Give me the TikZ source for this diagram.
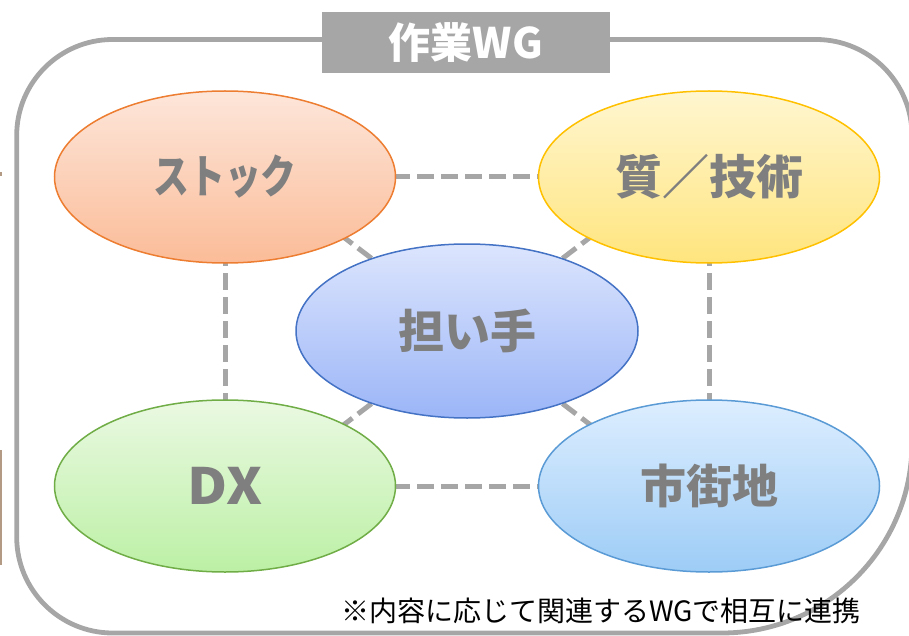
\documentclass[tikz,border=0pt]{standalone}
\usepackage{fontspec}
\newfontfamily\jp{Noto Sans CJK JP}
\usetikzlibrary{shapes.geometric,backgrounds}
\definecolor{framegray}{HTML}{A6A6A6}
\definecolor{txtgray}{HTML}{7F7F7F}
\definecolor{orB}{HTML}{ED7D31}\definecolor{orT}{HTML}{FDE6DA}\definecolor{orM}{HTML}{FBBC98}
\definecolor{yeB}{HTML}{FFC000}\definecolor{yeT}{HTML}{FFF6D0}\definecolor{yeM}{HTML}{FFE57E}
\definecolor{blB}{HTML}{4472C4}\definecolor{blT}{HTML}{DCE5FD}\definecolor{blM}{HTML}{9BB5F7}
\definecolor{grB}{HTML}{70AD47}\definecolor{grT}{HTML}{EAF9E2}\definecolor{grM}{HTML}{BCF0A5}
\definecolor{lbB}{HTML}{5B9BD5}\definecolor{lbT}{HTML}{DDEEFF}\definecolor{lbM}{HTML}{9DCCF6}
\definecolor{artif}{HTML}{B39A84}
\tikzset{
  oval/.style={ellipse, minimum width=341pt, minimum height=172pt, inner sep=0pt, line width=1.5pt,
    font=\jp\bfseries\fontsize{46}{50}\selectfont, text=txtgray},
  link/.style={draw=framegray, line width=5pt, dash pattern=on 17pt off 7pt},
  frame/.style={draw=framegray, line width=4.8pt},
}
\begin{document}
\begin{tikzpicture}[x=1pt,y=-1pt]
\useasboundingbox (0,0) rectangle (909,636);
\node[oval, draw=orB, top color=orT, bottom color=orM] (stock) at (225,177) {\scalebox{0.78}[1]{ストック}};
\node[oval, draw=yeB, top color=yeT, bottom color=yeM] (tech) at (709,177) {\fontsize{47}{50}\selectfont 質／技術};
\node[oval, draw=blB, top color=blT, bottom color=blM, minimum width=342pt, minimum height=174pt] (hito) at (467,331) {担い手};
\node[oval, draw=grB, top color=grT, bottom color=grM] (dx) at (225,486) {\fontsize{50}{54}\selectfont\scalebox{1.1}[1]{DX}};
\node[oval, draw=lbB, top color=lbT, bottom color=lbM] (town) at (709,486) {市街地};
\coordinate (cA) at (325,223);
\coordinate (cB) at (609,223);
\coordinate (cC) at (325,439);
\coordinate (cD) at (609,439);
\begin{scope}[on background layer]
  \draw[frame] (16.7,135.5) arc[start angle=180,end angle=90,radius=96pt] -- (816,39.5)
    arc[start angle=90,end angle=0,radius=96pt] -- (912,443)
    arc[start angle=0,end angle=-90,radius=190pt] -- (112.7,633)
    arc[start angle=-90,end angle=-180,radius=96pt] -- cycle;
  \draw[link] (stock.center) -- (tech.center);
  \draw[link] (dx.center) -- (town.center);
  \draw[link] (stock.center) -- (dx.center);
  \draw[link] (tech.center) -- (town.center);
  \draw[link] (hito.center) -- (cA);
  \draw[link] (hito.center) -- (cB);
  \draw[link] (hito.center) -- (cC);
  \draw[link] (hito.center) -- (cD);
  \fill[artif] (0,450) rectangle (1.5,565);
  \fill[artif] (0,172) rectangle (1.5,176);
\end{scope}
\node[fill=framegray, minimum width=288pt, minimum height=61pt, inner sep=0pt,
  font=\jp\bfseries\fontsize{42}{46}\selectfont, text=white] (title) at (466,42.5) {作業WG};
\node[font=\jp\fontsize{28}{32}\selectfont, text=black, inner sep=0pt] (note) at (601,611) {※内容に応じて関連するWGで相互に連携};
\end{tikzpicture}
\end{document}
